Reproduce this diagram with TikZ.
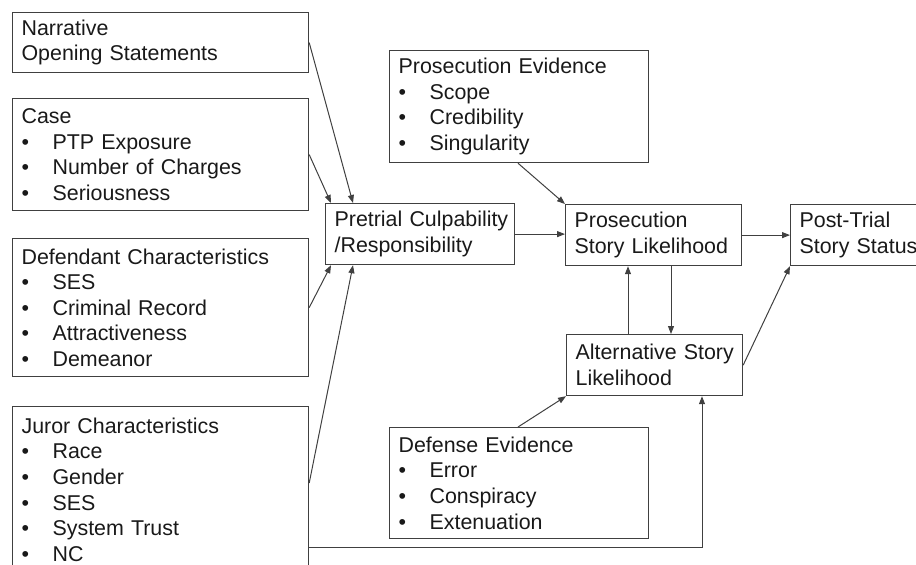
\documentclass[tikz,border=0pt]{standalone}
\usepackage{fontspec}
\setmainfont{Liberation Sans}
\usetikzlibrary{arrows.meta,calc}

\tikzset{
  box/.style={draw=black!75, line width=0.6pt, anchor=north west, align=left,
    inner xsep=4.5pt, inner ysep=0pt, text=black!90,
    font=\fontsize{10.7}{12.8}\selectfont},
  arr/.style={draw=black!75, line width=0.5pt, -{Triangle[length=4pt,width=3pt]}}
}
\newcommand{\bul}[1]{\makebox[15.5pt][l]{\textbullet}#1}

\begin{document}
\begin{tikzpicture}[x=0.5pt, y=-0.5pt]
    \useasboundingbox (0,0) rectangle (916,564);
    \clip (0,0) rectangle (916,564);

    % Input boxes
    \node[box, text width=139pt, minimum height=30pt] (narr) at (12,12)
        {Narrative\\Opening Statements};
    \node[box, text width=139pt, minimum height=56pt] (case) at (12,98)
        {Case\\\bul{PTP Exposure}\\\bul{Number of Charges}\\\bul{Seriousness}};
    \node[box, text width=139pt, minimum height=69pt] (defd) at (12,238)
        {Defendant Characteristics\\\bul{SES}\\\bul{Criminal Record}\\\bul{Attractiveness}\\\bul{Demeanor}};
    \node[box, text width=139pt, minimum height=83pt] (juror) at (12,406)
        {Juror Characteristics\\\bul{Race}\\\bul{Gender}\\\bul{SES}\\\bul{System Trust}\\\bul{NC}};

    % Evidence boxes
    \node[box, text width=120.5pt, minimum height=56pt] (proev) at (389,50)
        {Prosecution Evidence\\\bul{Scope}\\\bul{Credibility}\\\bul{Singularity}};
    \node[box, text width=120.5pt, minimum height=55.5pt] (defev) at (389,427)
        {Defense Evidence\\\bul{Error}\\\bul{Conspiracy}\\\bul{Extenuation}};

    % Story boxes
    \node[box, text width=85.5pt, minimum height=30.5pt] (pre) at (325,203)
        {\mbox{Pretrial Culpability}\\/Responsibility};
    \node[box, text width=79pt, minimum height=30.5pt] (prost) at (565,204)
        {Prosecution\\\mbox{Story Likelihood}};
    \node[box, text width=79pt, minimum height=30.5pt] (alt) at (566,334)
        {\mbox{Alternative Story}\\Likelihood};
    \node[box, text width=72pt, minimum height=30.5pt] (post) at (790,204)
        {Post-Trial\\Story Status};

    % Connectors into pretrial
    \draw[arr] (narr.east) -- ($(pre.north west)+(28,0)$);
    \draw[arr] (case.east) -- ($(pre.north west)+(6,0)$);
    \draw[arr] (defd.east) -- ($(pre.south west)+(6,0)$);
    \draw[arr] ($(juror.north east)+(0,77)$) -- ($(pre.south west)+(28,0)$);

    % Connectors between stories
    \draw[arr] (pre.east) -- (pre.east -| prost.west);
    \draw[arr] ($(proev.south west)+(129,0)$) -- (prost.north west);
    \draw[arr] (prost.east) -- (prost.east -| post.west);
    \draw[arr] ($(alt.north west)+(62,0)$) coordinate (up) -- (up |- prost.south);
    \draw[arr] ($(prost.south west)+(106,0)$) coordinate (dn) -- (dn |- alt.north);
    \draw[arr] (alt.east) -- (post.south west);
    \draw[arr] ($(defev.north west)+(129,0)$) -- (alt.south west);
    \draw[arr] ($(juror.north east)+(0,141)$) -| ($(alt.south west)+(136,0)$);

\end{tikzpicture}
\end{document}
